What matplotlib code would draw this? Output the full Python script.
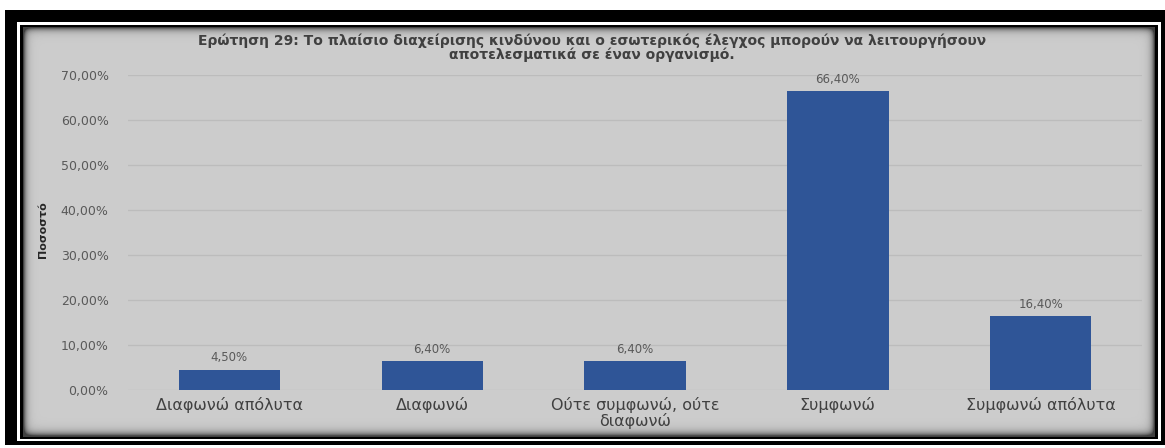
import matplotlib
matplotlib.use('Agg')
import matplotlib.pyplot as plt
import numpy as np

categories = ['Διαφωνώ απόλυτα', 'Διαφωνώ', 'Ούτε συμφωνώ, ούτε\nδιαφωνώ',
              'Συμφωνώ', 'Συμφωνώ απόλυτα']
values = [4.5, 6.4, 6.4, 66.4, 16.4]
yticks = [0, 10, 20, 30, 40, 50, 60, 70]
title = ('Ερώτηση 29: Το πλαίσιο διαχείρισης κινδύνου και ο εσωτερικός έλεγχος μπορούν να λειτουργήσουν\n'
         'αποτελεσματικά σε έναν οργανισμό.')

W, H = 1165, 448
bar_color = '#2F5597'
text_dark = '#404040'
tick_grey = '#595959'


def pct(v):
    return f'{v:.2f}%'.replace('.', ',')


# framed background: white page, black border, thin white line, grey panel with inner shadow
bg = np.ones((H, W))
bg[10:445, 5:W] = 0.0
bg[22:25, 17:1161] = 1.0
bg[439:441, 17:1161] = 1.0
bg[22:441, 17:20] = 1.0
bg[22:441, 1158:1161] = 1.0
px0, px1, py0, py1 = 23, 1155, 27, 437
yy, xx = np.mgrid[py0:py1, px0:px1]
d_left = xx - px0
d_right = px1 - 1 - xx
d_top = yy - py0
d_bot = py1 - 1 - yy
shade = (np.exp(-d_left / 3.0) + np.exp(-d_right / 3.0)
         + np.exp(-d_top / 3.0) + 1.2 * np.exp(-d_bot / 3.5))
bg[py0:py1, px0:px1] = 0.80 - 0.55 * np.clip(shade, 0, 1)

fig = plt.figure(figsize=(W / 100, H / 100), dpi=100)
ax_bg = fig.add_axes([0, 0, 1, 1], zorder=0)
ax_bg.imshow(bg, cmap='gray', vmin=0, vmax=1, aspect='auto', interpolation='bilinear')
ax_bg.axis('off')

ax = fig.add_axes([128 / W, 58 / H, (1142 - 128) / W, (390 - 75) / H], zorder=1)
ax.patch.set_alpha(0)

x = np.arange(len(categories))
bars = ax.bar(x, values, width=0.5, color=bar_color, zorder=3)
for xi, v in zip(x, values):
    ax.annotate(pct(v), (xi, v), xytext=(0, 4), textcoords='offset points',
                ha='center', va='bottom', fontsize=8.5, color=tick_grey)

ax.set_xlim(-0.5, len(categories) - 0.5)
ax.set_ylim(0, 70)
ax.set_yticks(yticks)
ax.set_yticklabels([pct(t) for t in yticks], fontsize=9, color=tick_grey)
ax.set_xticks(x)
ax.set_xticklabels(categories, fontsize=11.5, color=text_dark, linespacing=1.0)
ax.tick_params(axis='both', length=0)
ax.tick_params(axis='y', pad=14)
ax.tick_params(axis='x', pad=5)
ax.grid(axis='y', color='#bcbcbc', linewidth=0.9, zorder=0)
for s in ax.spines.values():
    s.set_visible(False)

fig.text(43 / W, 1 - 230 / H, 'Ποσοστό', rotation=90, ha='center', va='center',
         fontsize=8, fontweight='bold', color='#262626')
fig.text(592 / W, 1 - 48 / H, title, ha='center', va='center', fontsize=10,
         fontweight='bold', color=text_dark, linespacing=1.0)

fig.savefig('out.png', dpi=100)
